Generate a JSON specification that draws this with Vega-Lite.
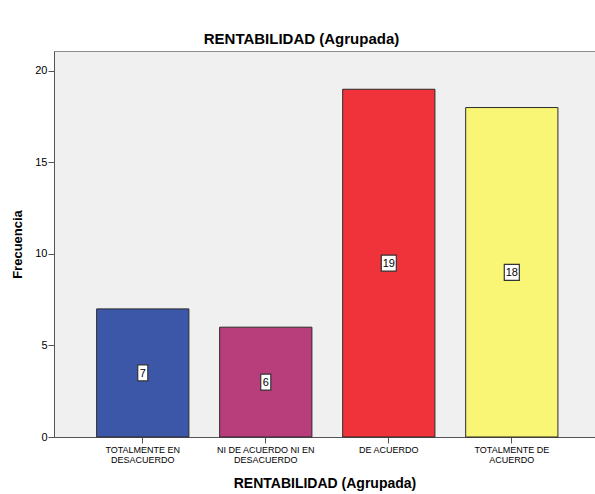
{
  "$schema": "https://vega.github.io/schema/vega-lite/v6.json",
  "autosize": {"type": "none"},
  "padding": {"left": 54, "top": 51, "right": 0, "bottom": 57},
  "width": 541,
  "height": 386,
  "background": "white",
  "title": {"text": "RENTABILIDAD (Agrupada)", "font": "Liberation Sans", "fontSize": 15, "fontWeight": "bold", "color": "#000000", "anchor": "middle", "dx": -23, "offset": 4},
  "data": {"values": [
    {"categoria": "TOTALMENTE EN DESACUERDO", "Frecuencia": 7},
    {"categoria": "NI DE ACUERDO NI EN DESACUERDO", "Frecuencia": 6},
    {"categoria": "DE ACUERDO", "Frecuencia": 19},
    {"categoria": "TOTALMENTE DE ACUERDO", "Frecuencia": 18}
  ]},
  "config": {
    "view": {"fill": "#F0F0F0", "stroke": "#8C8C8C", "strokeWidth": 1},
    "font": "Liberation Sans"
  },
  "resolve": {"scale": {"y": "independent"}},
  "encoding": {
    "x": {
      "field": "categoria", "type": "nominal", "sort": null,
      "scale": {"paddingInner": 0.25, "paddingOuter": 0.324, "align": 0.535},
      "axis": {
        "title": "RENTABILIDAD (Agrupada)", "titleFont": "Liberation Sans", "titleFontSize": 14, "titleFontWeight": "bold", "titleColor": "#000000", "titlePadding": 12,
        "labelAngle": 0, "labelFontSize": 9, "labelLineHeight": 10, "labelColor": "#000000", "labelFont": "Liberation Sans",
        "labelExpr": "datum.value == 'TOTALMENTE EN DESACUERDO' ? ['TOTALMENTE EN', 'DESACUERDO'] : datum.value == 'NI DE ACUERDO NI EN DESACUERDO' ? ['NI DE ACUERDO NI EN', 'DESACUERDO'] : datum.value == 'TOTALMENTE DE ACUERDO' ? ['TOTALMENTE DE', 'ACUERDO'] : datum.value",
        "domainColor": "#555555", "tickColor": "#555555", "tickSize": 6, "labelPadding": 2, "grid": false
      }
    }
  },
  "layer": [
    {
      "mark": {"type": "bar", "stroke": "#2B2B2B", "strokeWidth": 1},
      "encoding": {
        "y": {
          "field": "Frecuencia", "type": "quantitative",
          "scale": {"domain": [0, 21.09], "nice": false},
          "axis": {
            "values": [0, 5, 10, 15, 20], "title": "Frecuencia", "titleFont": "Liberation Sans", "titleFontSize": 13, "titleFontWeight": "bold", "titleColor": "#000000", "titlePadding": 10,
            "labelFontSize": 11, "labelColor": "#000000", "labelFont": "Liberation Sans", "grid": false,
            "domainColor": "#555555", "tickColor": "#555555", "tickSize": 6, "labelPadding": 1
          }
        },
        "color": {
          "field": "categoria", "type": "nominal", "sort": null, "legend": null,
          "scale": {"domain": ["TOTALMENTE EN DESACUERDO", "NI DE ACUERDO NI EN DESACUERDO", "DE ACUERDO", "TOTALMENTE DE ACUERDO"], "range": ["#3D57A8", "#B83E7B", "#F0333B", "#F9F575"]}
        }
      }
    },
    {
      "layer": [
        {
          "mark": {"type": "point", "filled": true, "fill": "white", "stroke": "#333333", "strokeWidth": 1.2, "opacity": 1, "size": 256},
          "encoding": {
            "shape": {"condition": {"test": "datum.Frecuencia >= 10", "value": "M-0.94,-1L0.94,-1L0.94,1L-0.94,1Z"}, "value": "M-0.63,-1L0.63,-1L0.63,1L-0.63,1Z"}
          }
        },
        {
          "mark": {"type": "text", "fontSize": 11, "color": "#000000", "font": "Liberation Sans", "baseline": "middle", "dy": 1},
          "encoding": {
            "text": {"field": "Frecuencia", "type": "quantitative"}
          }
        }
      ],
      "encoding": {
        "y": {"field": "Frecuencia", "type": "quantitative", "scale": {"domain": [0, 42.18], "nice": false}, "axis": null}
      }
    }
  ]
}
